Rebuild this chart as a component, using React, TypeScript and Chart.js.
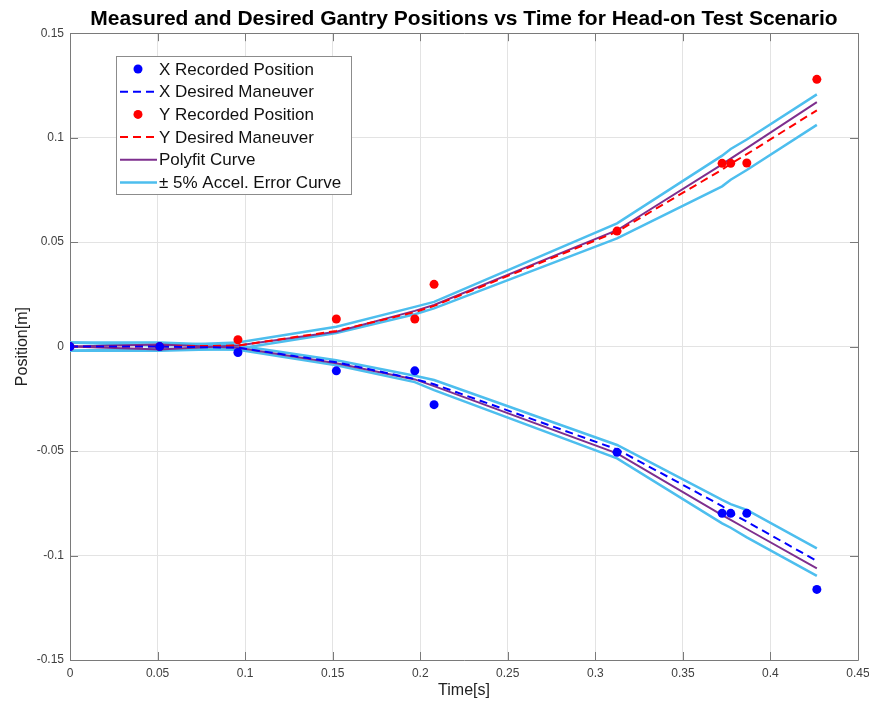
import React, { useEffect, useRef } from "react";
import { Chart, registerables } from "chart.js";

Chart.register(...registerables);

// ---------- content ----------
const chartTitle = "Measured and Desired Gantry Positions vs Time for Head-on Test Scenario";
const xAxisTitle = "Time[s]";
const yAxisTitle = "Position[m]";
const xTickValues = [0, 0.05, 0.1, 0.15, 0.2, 0.25, 0.3, 0.35, 0.4, 0.45];
const yTickValues = [-0.15, -0.1, -0.05, 0, 0.05, 0.1, 0.15];
const legendLabels = [
  "X Recorded Position",
  "X Desired Maneuver",
  "Y Recorded Position",
  "Y Desired Maneuver",
  "Polyfit Curve",
  "\u00B1 5% Accel. Error Curve",
];

// sample times [s]
const timeS = [0, 0.0512, 0.0959, 0.1521, 0.1969, 0.2079, 0.3124, 0.3724, 0.3773, 0.3865, 0.4265];

// recorded positions [m]
const xRecorded = [0, 0, -0.0028, -0.0116, -0.0116, -0.0278, -0.0506, -0.0798, -0.0798, -0.0798, -0.1162];
const yRecorded = [0, 0, 0.0033, 0.0132, 0.0132, 0.0298, 0.0553, 0.0877, 0.0877, 0.0879, 0.1279];

// desired maneuvers [m]
const xDesired = [0, 0, -0.0005, -0.0075, -0.0155, -0.018, -0.0492, -0.0763, -0.0795, -0.0838, -0.1026];
const yDesired = [0, 0, 0.0005, 0.0075, 0.0165, 0.0195, 0.055, 0.0847, 0.0875, 0.0921, 0.1131];

// polyfit curves [m]
const xPolyfit = [0, 0.001, -0.0005, -0.008, -0.0157, -0.0189, -0.0511, -0.0807, -0.0829, -0.0873, -0.1061];
const yPolyfit = [0, -0.0014, 0.0005, 0.0071, 0.0171, 0.0199, 0.0557, 0.0872, 0.09, 0.095, 0.117];

// +/- 5% acceleration error curves [m]
const xErrUpper = [0.002, 0.002, 0.0005, -0.0065, -0.014, -0.016, -0.0471, -0.0734, -0.0754, -0.0782, -0.0966];
const xErrLower = [-0.002, -0.001, -0.0015, -0.0089, -0.017, -0.0208, -0.0535, -0.0846, -0.0867, -0.0913, -0.1097];
const yErrUpper = [0.002, 0.0005, 0.002, 0.0095, 0.019, 0.0214, 0.059, 0.0914, 0.0946, 0.0991, 0.1207];
const yErrLower = [-0.002, -0.002, -0.001, 0.0065, 0.0155, 0.0183, 0.0518, 0.0767, 0.0799, 0.0845, 0.1061];

// ---------- styles ----------
const BLUE = "#0000ff";
const RED = "#ff0000";
const PURPLE = "#7e2f8e";
const LIGHTBLUE = "#4dbeee";
const FONT = "'Liberation Sans', Arial, Helvetica, sans-serif";

const pts = (ys: number[]) => timeS.map((t, i) => ({ x: t, y: ys[i] }));
const fmt = (v: number) => String(Number(v.toFixed(2)));

const boxTicksPlugin = {
  id: "boxTicks",
  beforeDatasetsDraw(chart: any) {
    const { ctx, chartArea: a, scales } = chart;
    const tl = 8;
    ctx.save();
    ctx.strokeStyle = "#7a7a7a";
    ctx.lineWidth = 1;
    ctx.beginPath();
    ctx.rect(Math.round(a.left) + 0.5, Math.round(a.top) + 0.5, Math.round(a.right - a.left), Math.round(a.bottom - a.top));
    for (const v of xTickValues) {
      const px = Math.round(scales.x.getPixelForValue(v)) + 0.5;
      ctx.moveTo(px, a.bottom);
      ctx.lineTo(px, a.bottom - tl);
      ctx.moveTo(px, a.top);
      ctx.lineTo(px, a.top + tl);
    }
    for (const v of yTickValues) {
      const py = Math.round(scales.y.getPixelForValue(v)) + 0.5;
      ctx.moveTo(a.left, py);
      ctx.lineTo(a.left + tl, py);
      ctx.moveTo(a.right, py);
      ctx.lineTo(a.right - tl, py);
    }
    ctx.stroke();
    ctx.restore();
  },
};

const legendPlugin = {
  id: "matlabLegend",
  afterDraw(chart: any) {
    const { ctx } = chart;
    const bx = 116, by = 56, bw = 235, bh = 138;
    ctx.save();
    ctx.fillStyle = "#ffffff";
    ctx.fillRect(bx, by, bw, bh);
    ctx.strokeStyle = "#8c8c8c";
    ctx.lineWidth = 1;
    ctx.strokeRect(bx + 0.5, by + 0.5, bw, bh);
    const styles = [
      { kind: "dot", color: BLUE },
      { kind: "dash", color: BLUE },
      { kind: "dot", color: RED },
      { kind: "dash", color: RED },
      { kind: "line", color: PURPLE },
      { kind: "line", color: LIGHTBLUE },
    ];
    ctx.font = `17px ${FONT}`;
    ctx.textBaseline = "middle";
    ctx.textAlign = "left";
    legendLabels.forEach((label, i) => {
      const y = 69 + i * 22.7;
      const s = styles[i];
      if (s.kind === "dot") {
        ctx.fillStyle = s.color;
        ctx.beginPath();
        ctx.arc(138, y, 4.5, 0, Math.PI * 2);
        ctx.fill();
      } else {
        ctx.strokeStyle = s.color;
        ctx.lineWidth = s.kind === "line" && s.color === LIGHTBLUE ? 2.5 : 2;
        ctx.setLineDash(s.kind === "dash" ? [8, 5] : []);
        ctx.beginPath();
        ctx.moveTo(120, y);
        ctx.lineTo(157, y);
        ctx.stroke();
        ctx.setLineDash([]);
      }
      ctx.fillStyle = "#111111";
      ctx.fillText(label, 159, y + 1);
    });
    ctx.restore();
  },
};

export default function App() {
  const canvasRef = useRef<HTMLCanvasElement | null>(null);

  useEffect(() => {
    if (!canvasRef.current) return;
    const lineDs = (label: string, ys: number[], color: string, width: number, dash: number[], order: number) => ({
      label,
      data: pts(ys),
      showLine: true,
      borderColor: color,
      backgroundColor: color,
      borderWidth: width,
      borderDash: dash,
      pointRadius: 0,
      pointHoverRadius: 0,
      tension: 0,
      order,
    });
    const dotDs = (label: string, ys: number[], color: string, order: number) => ({
      label,
      data: pts(ys),
      showLine: false,
      backgroundColor: color,
      borderColor: color,
      borderWidth: 0,
      pointRadius: 4.5,
      order,
    });

    const chart = new Chart(canvasRef.current, {
      type: "scatter",
      data: {
        datasets: [
          dotDs(legendLabels[0], xRecorded, BLUE, 0),
          dotDs(legendLabels[2], yRecorded, RED, 1),
          lineDs(legendLabels[1], xDesired, BLUE, 2, [8, 5], 2),
          lineDs(legendLabels[3], yDesired, RED, 2, [8, 5], 2),
          lineDs(legendLabels[4], xPolyfit, PURPLE, 2, [], 3),
          lineDs(legendLabels[4], yPolyfit, PURPLE, 2, [], 3),
          lineDs(legendLabels[5], xErrUpper, LIGHTBLUE, 2.5, [], 4),
          lineDs(legendLabels[5], xErrLower, LIGHTBLUE, 2.5, [], 4),
          lineDs(legendLabels[5], yErrUpper, LIGHTBLUE, 2.5, [], 4),
          lineDs(legendLabels[5], yErrLower, LIGHTBLUE, 2.5, [], 4),
        ],
      },
      options: {
        animation: false,
        responsive: false,
        devicePixelRatio: 1,
        layout: { padding: { top: 0, right: 11, bottom: 0, left: 0 } },
        plugins: {
          legend: { display: false },
          tooltip: { enabled: false },
          title: {
            display: true,
            fullSize: false,
            text: chartTitle,
            color: "#000000",
            font: { family: FONT, size: 21, weight: "bold", lineHeight: 1.2 },
            padding: { top: 7, bottom: 1 },
          },
        },
        scales: {
          x: {
            type: "linear",
            min: 0,
            max: 0.45,
            afterBuildTicks: (scale: any) => {
              scale.ticks = xTickValues.map((v) => ({ value: v }));
            },
            afterFit: (scale: any) => {
              scale.height = 42;
              scale.paddingLeft = 0;
              scale.paddingRight = 0;
            },
            ticks: {
              callback: (v: any) => fmt(Number(v)),
              color: "#404040",
              font: { family: FONT, size: 12 },
              padding: 6,
              maxRotation: 0,
              autoSkip: false,
            },
            grid: { color: "#e3e3e3", drawTicks: false },
            border: { display: false },
            title: {
              display: true,
              text: xAxisTitle,
              color: "#222222",
              font: { family: FONT, size: 16 },
              padding: { top: 0, bottom: 2 },
            },
          },
          y: {
            type: "linear",
            min: -0.15,
            max: 0.15,
            afterBuildTicks: (scale: any) => {
              scale.ticks = yTickValues.map((v) => ({ value: v }));
            },
            afterFit: (scale: any) => {
              scale.width = 70;
              scale.paddingTop = 0;
              scale.paddingBottom = 0;
            },
            ticks: {
              callback: (v: any) => fmt(Number(v)),
              color: "#404040",
              font: { family: FONT, size: 12 },
              padding: 6,
              autoSkip: false,
            },
            grid: { color: "#e3e3e3", drawTicks: false },
            border: { display: false },
            title: {
              display: true,
              text: yAxisTitle,
              color: "#222222",
              font: { family: FONT, size: 16 },
              padding: { top: 13, bottom: 0 },
            },
          },
        },
      },
      plugins: [boxTicksPlugin, legendPlugin],
    } as any);

    return () => chart.destroy();
  }, []);

  return (
    <div style={{ position: "absolute", left: 0, top: 0, width: 869, height: 702, background: "#ffffff" }}>
      <canvas ref={canvasRef} width={869} height={702} style={{ display: "block", width: 869, height: 702 }} />
    </div>
  );
}
